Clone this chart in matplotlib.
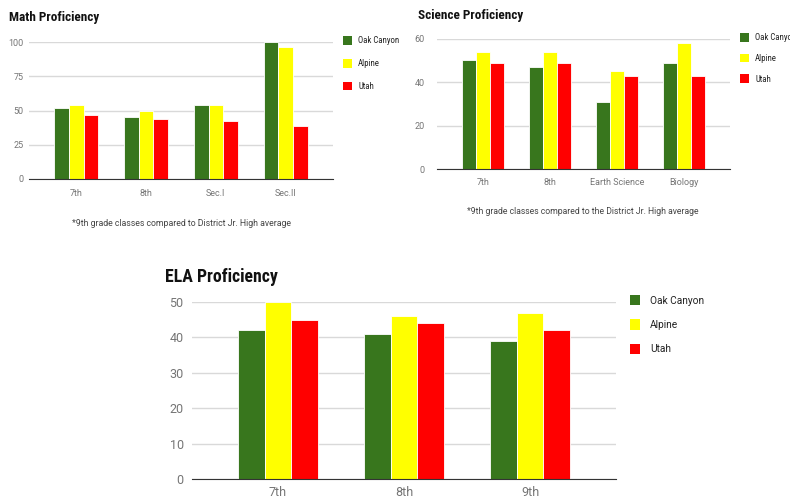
import matplotlib
matplotlib.use("Agg")
from matplotlib import pyplot as plt
from matplotlib.patches import Patch
import numpy as np

series = ["Oak Canyon", "Alpine", "Utah"]
colors = ["#38761d", "#ffff00", "#ff0000"]

math_cats = ["7th", "8th", "Sec.I", "Sec.II"]
math_oak = [52, 45, 54, 100]
math_alpine = [54, 50, 54, 96]
math_utah = [47, 44, 42, 39]

sci_cats = ["7th", "8th", "Earth Science", "Biology"]
sci_oak = [50, 47, 31, 49]
sci_alpine = [54, 54, 45, 58]
sci_utah = [49, 49, 43, 43]

ela_cats = ["7th", "8th", "9th"]
ela_oak = [42, 41, 39]
ela_alpine = [50, 46, 47]
ela_utah = [45, 44, 42]

plt.rcParams["font.family"] = ["Roboto", "DejaVu Sans"]
narrow = ["Roboto Condensed", "Liberation Sans Narrow", "Roboto"]
W, H = 790, 496
fig = plt.figure(figsize=(W / 100, H / 100), dpi=100)


def box(left, right, top, bottom):
    return [left / W, 1 - bottom / H, (right - left) / W, (bottom - top) / H]


def bar_chart(rect, cats, values, yticks, tick_size, ypad, xpad):
    ax = fig.add_axes(rect)
    x = np.arange(len(cats))
    w = 0.21
    for i, (vals, c) in enumerate(zip(values, colors)):
        ax.bar(x + (i - 1) * w, vals, w, color=c, edgecolor="white", linewidth=0.6, zorder=2)
    ax.set_xlim(-0.68, len(cats) - 0.32)
    ax.set_ylim(0, yticks[-1])
    ax.set_yticks(yticks)
    ax.set_xticks(x, cats)
    ax.grid(axis="y", color="#d9d9d9", linewidth=1, zorder=0)
    for s in ["top", "right", "left"]:
        ax.spines[s].set_visible(False)
    ax.spines["bottom"].set_color("#333333")
    ax.spines["bottom"].set_zorder(3)
    ax.tick_params(length=0, labelsize=tick_size, colors="#757575")
    ax.tick_params(axis="y", pad=ypad)
    ax.tick_params(axis="x", pad=xpad)
    ax.set_facecolor("none")
    return ax


def legend(x, y, size, spacing, hl, hh, pad, family, color="#222222"):
    handles = [Patch(facecolor=c, edgecolor="none") for c in colors]
    fig.legend(handles, series, loc="upper left", bbox_to_anchor=(x / W, 1 - y / H),
               frameon=False, prop={"family": family, "size": size},
               handlelength=hl, handleheight=hh, handletextpad=pad,
               labelspacing=spacing, borderpad=0, borderaxespad=0, labelcolor=color)


# Math
bar_chart(box(29, 333, 42, 179), math_cats, [math_oak, math_alpine, math_utah],
          [0, 25, 50, 75, 100], 6.5, 4, 7)
fig.text(9 / W, 1 - 17 / H, "Math Proficiency", fontsize=9.5, fontweight="bold",
         family=narrow, va="center", ha="left", color="#111111")
fig.text(181 / W, 1 - 223 / H, "*9th grade classes compared to District Jr. High average",
         fontsize=6.3, ha="center", va="center", color="#444444")
legend(343, 36, 6.3, 1.55, 1.03, 1.15, 0.7, narrow)

# Science
bar_chart(box(437, 730, 38.7, 169.3), sci_cats, [sci_oak, sci_alpine, sci_utah],
          [0, 20, 40, 60], 6.5, 9, 6)
fig.text(418 / W, 1 - 16 / H, "Science Proficiency", fontsize=9.5, fontweight="bold",
         family=narrow, va="center", ha="left", color="#111111")
fig.text(583 / W, 1 - 211 / H, "*9th grade classes compared to the District Jr. High average",
         fontsize=6.2, ha="center", va="center", color="#444444")
legend(740, 33, 6.3, 1.3, 1.03, 1.15, 0.7, narrow)

# ELA
bar_chart(box(192, 616, 302, 479), ela_cats, [ela_oak, ela_alpine, ela_utah],
          [0, 10, 20, 30, 40, 50], 9, 6, 5)
fig.text(165 / W, 1 - 277 / H, "ELA Proficiency", fontsize=12.8, fontweight="bold",
         family=narrow, va="center", ha="left", color="#111111")
legend(630, 295, 7.3, 1.35, 1.0, 1.2, 1.0, ["Roboto", "DejaVu Sans"])

fig.savefig("out.png", dpi=100, facecolor="white")
